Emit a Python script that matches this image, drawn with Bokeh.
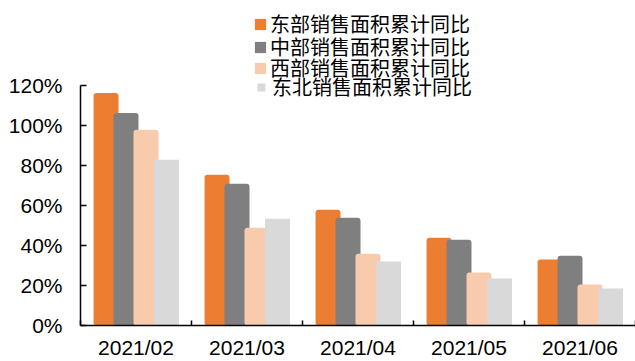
from bokeh.plotting import figure
from bokeh.models import FixedTicker, Range1d, Legend, LegendItem, ColumnDataSource
from bokeh.embed import file_html
from bokeh.resources import INLINE

months = ["2021/02", "2021/03", "2021/04", "2021/05", "2021/06"]
series_names = ["东部销售面积累计同比", "中部销售面积累计同比", "西部销售面积累计同比", "东北销售面积累计同比"]
east = [1.165, 0.755, 0.58, 0.44, 0.33]
central = [1.065, 0.71, 0.54, 0.43, 0.35]
west = [0.98, 0.49, 0.36, 0.265, 0.205]
northeast = [0.83, 0.535, 0.32, 0.235, 0.185]
y_ticks = [0, 0.2, 0.4, 0.6, 0.8, 1.0, 1.2]

colors = ["#ED7D31", "#7F7F7F", "#F8CBAD", "#D9D9D9"]
offsets = [-0.27, -0.09, 0.09, 0.275]
radii = [3, 3, 3, 0]
values = [east, central, west, northeast]
legend_bottoms = [287, 264, 243, 224]
legend_lefts = [173, 173, 173, 176]
legend_glyph = [14, 14, 14, 10]
legend_standoff = [3, 3, 3, 6]

p = figure(width=635, height=361, output_backend="svg", toolbar_location=None,
           x_range=Range1d(0, len(months)), y_range=Range1d(0, 1.603),
           min_border_left=80, min_border_right=0, min_border_top=5, min_border_bottom=34)
p.outline_line_color = None
p.xgrid.visible = False
p.ygrid.visible = False

for k, (name, vals, c, off, r) in enumerate(zip(series_names, values, colors, offsets, radii)):
    src = ColumnDataSource(dict(x=[i + 0.5 + off for i in range(len(months))], top=vals))
    g = p.vbar(x="x", top="top", bottom=0, width=0.225, source=src, fill_color=c,
               line_color=None, border_radius=r)
    lg = Legend(items=[LegendItem(label=name, renderers=[g])],
                location=(legend_lefts[k], legend_bottoms[k]),
                padding=0, margin=0, spacing=0,
                glyph_width=legend_glyph[k], glyph_height=legend_glyph[k], label_height=20,
                label_standoff=legend_standoff[k],
                label_text_font="Noto Sans CJK SC", label_text_font_size="20px",
                label_text_color="#000000", border_line_alpha=0, background_fill_alpha=0)
    p.add_layout(lg, "center")

font = "Liberation Sans"
xa = p.xaxis[0]
xa.ticker = FixedTicker(ticks=[i + 0.5 for i in range(len(months))],
                        minor_ticks=list(range(len(months) + 1)))
xa.major_label_overrides = {i + 0.5: m for i, m in enumerate(months)}
xa.major_tick_in = 0
xa.major_tick_out = 0
xa.minor_tick_in = 5
xa.minor_tick_out = 0
xa.minor_tick_line_color = "#000000"
xa.minor_tick_line_width = 1.5
xa.axis_line_color = "#000000"
xa.axis_line_width = 1.5
xa.major_label_standoff = 10
xa.major_label_text_font = font
xa.major_label_text_font_size = "21px"
xa.major_label_text_color = "#000000"

ya = p.yaxis[0]
ya.ticker = FixedTicker(ticks=y_ticks, minor_ticks=[])
ya.bounds = (0, 1.2)
ya.major_label_overrides = {t: f"{round(t * 100)}%" for t in y_ticks}
ya.major_tick_in = 6
ya.major_tick_out = 0
ya.major_tick_line_color = "#000000"
ya.major_tick_line_width = 1.5
ya.axis_line_color = "#000000"
ya.axis_line_width = 1.5
ya.major_label_standoff = 18
ya.major_label_text_font = font
ya.major_label_text_font_size = "21px"
ya.major_label_text_color = "#000000"

open("out.html", "w").write(file_html(p, INLINE))
